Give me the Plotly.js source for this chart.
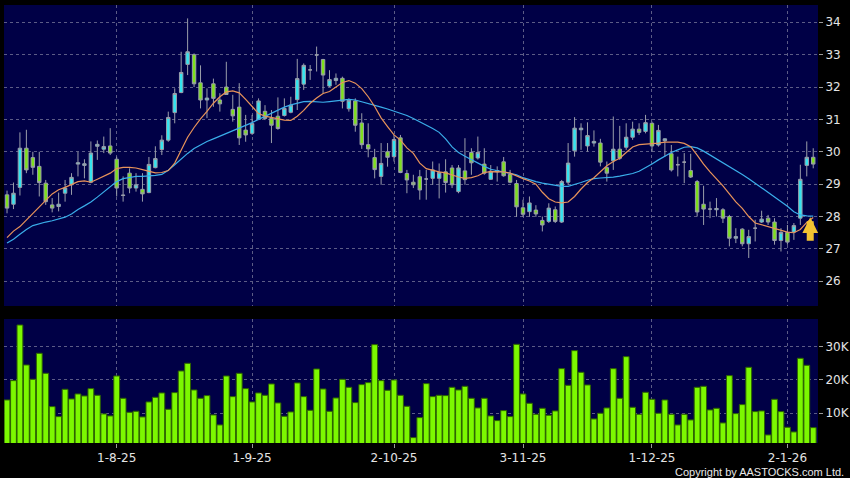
<!DOCTYPE html>
<html><head><meta charset="utf-8">
<script src="https://cdn.plot.ly/plotly-3.0.1.min.js"></script>
<style>html,body{margin:0;padding:0;background:#000;}#chart{width:850px;height:478px;}</style>
</head><body><div id="chart"></div>
<script>
const dates = [
'2025-07-09','2025-07-10','2025-07-11','2025-07-14','2025-07-15','2025-07-16','2025-07-17','2025-07-18','2025-07-21','2025-07-22',
'2025-07-23','2025-07-24','2025-07-25','2025-07-28','2025-07-29','2025-07-30','2025-07-31',
'2025-08-01','2025-08-04','2025-08-05','2025-08-06','2025-08-07','2025-08-08','2025-08-11','2025-08-12','2025-08-13','2025-08-14',
'2025-08-15','2025-08-18','2025-08-19','2025-08-20','2025-08-21','2025-08-22','2025-08-25','2025-08-26','2025-08-27','2025-08-28','2025-08-29',
'2025-09-01','2025-09-02','2025-09-03','2025-09-04','2025-09-05','2025-09-08','2025-09-09','2025-09-10','2025-09-11','2025-09-12',
'2025-09-15','2025-09-16','2025-09-17','2025-09-18','2025-09-19','2025-09-22','2025-09-23','2025-09-24','2025-09-25','2025-09-26','2025-09-29','2025-09-30',
'2025-10-02','2025-10-03','2025-10-06','2025-10-08','2025-10-09','2025-10-10','2025-10-13','2025-10-14','2025-10-15','2025-10-16',
'2025-10-17','2025-10-20','2025-10-21','2025-10-22','2025-10-23','2025-10-24','2025-10-27','2025-10-28','2025-10-30','2025-10-31',
'2025-11-03','2025-11-04','2025-11-05','2025-11-06','2025-11-07','2025-11-10','2025-11-11','2025-11-12','2025-11-13','2025-11-14',
'2025-11-17','2025-11-18','2025-11-19','2025-11-20','2025-11-21','2025-11-24','2025-11-25','2025-11-26','2025-11-27','2025-11-28',
'2025-12-01','2025-12-02','2025-12-03','2025-12-04','2025-12-05','2025-12-08','2025-12-09','2025-12-10','2025-12-11','2025-12-12',
'2025-12-15','2025-12-16','2025-12-17','2025-12-18','2025-12-19','2025-12-22','2025-12-23','2025-12-24','2025-12-29','2025-12-30','2025-12-31',
'2026-01-02','2026-01-05','2026-01-06','2026-01-07','2026-01-08'];

const openP = [28.67,28.38,28.9,30.11,29.82,29.55,29.03,28.36,28.31,28.72, 28.98,29.62,29.58,29.06,30.17,30.08,30.18,29.77,28.65,29.34,
28.88,28.84,28.74,29.51,30.07,30.36,31.21,31.83,32.7,33.0, 32.13,31.6,32.1,31.6,32.0,31.31,31.38,30.67,30.57,31.0,
31.25,31.03,31.1,31.12,31.22,31.61,32.09,32.53,32.99,32.85, 32.03,32.2,32.27,31.33,31.57,30.89,30.22,29.82,29.24,30.0,
29.85,30.43,29.33,29.06,29.23,29.16,29.18,29.18,29.38,29.5, 28.77,29.41,29.98,29.81,29.62,29.15,29.38,29.69,29.3,29.02,
28.27,28.15,28.2,27.88,27.85,28.21,27.83,29.06,30.03,30.68, 30.18,30.27,30.27,29.51,29.72,30.08,30.14,30.45,30.7,30.63,
30.88,30.21,30.34,29.94,29.6,29.68,29.42,29.08,28.38,28.23, 28.21,28.21,28.0,27.33,27.61,27.16,27.64,27.83,27.95,27.83,
27.26,27.51,27.52,27.95,29.58,29.83];
const highP = [28.8,29.05,30.6,30.68,30.0,30.0,29.13,28.57,28.74,29.13, 29.34,30.0,29.77,30.32,30.35,30.47,30.73,29.85,29.24,29.49,
29.34,29.34,29.84,30.17,30.51,31.24,31.96,33.09,34.12,33.04, 32.67,31.96,32.26,31.81,32.78,31.76,32.12,31.14,31.14,31.65,
31.44,31.29,31.68,31.65,31.7,32.87,32.73,32.68,33.25,32.87, 32.52,32.42,32.32,31.65,31.65,31.19,30.88,30.09,30.27,30.27,
30.52,30.52,29.44,29.29,29.44,29.44,29.7,29.64,29.77,29.59, 29.59,30.42,30.11,30.47,30.11,29.59,29.55,29.84,29.44,29.13,
28.52,28.62,28.35,28.0,28.41,28.31,29.13,30.27,31.07,30.88, 30.91,30.66,30.4,29.7,31.09,30.8,30.88,30.93,30.88,31.14,
30.93,30.83,30.42,30.21,29.85,29.96,29.94,29.13,28.95,28.46, 28.57,28.26,28.05,27.64,27.64,27.59,27.9,28.18,28.05,27.95,
27.64,27.74,27.8,29.6,30.32,30.11];
const lowP = [28.1,28.23,28.65,29.34,29.29,28.62,28.36,28.13,28.16,28.46, 28.67,29.24,29.18,29.03,29.75,29.96,29.9,28.62,28.46,28.72,
28.77,28.46,28.72,29.49,29.9,30.31,30.88,31.81,32.37,32.0, 31.34,31.04,31.39,31.24,31.76,30.93,30.21,30.31,30.52,30.98,
30.98,30.27,30.68,31.09,31.19,31.29,31.91,32.22,32.48,31.81, 32.0,32.07,31.34,31.24,30.62,30.09,29.83,29.18,28.98,29.54,
29.7,29.34,28.72,28.88,28.52,28.52,28.98,28.56,28.74,28.88, 28.72,28.98,29.29,29.76,29.29,29.13,29.08,29.23,29.03,27.99,
27.99,27.99,27.99,27.54,27.8,27.8,27.8,28.98,29.85,30.06, 30.01,30.16,29.55,29.08,29.44,29.75,30.06,30.37,30.52,30.57,
30.01,30.16,29.85,29.39,29.24,29.03,29.19,28.0,27.74,27.95, 28.0,27.8,27.08,27.18,27.08,26.72,27.23,27.8,27.74,27.13,
26.92,27.13,27.28,27.74,29.24,29.49];
const closeP = [28.26,28.72,30.11,29.44,29.52,29.05,28.46,28.26,28.38,28.88, 29.21,29.66,29.63,29.96,30.23,30.16,29.96,28.88,28.66,28.88,
28.98,28.7,29.61,29.79,30.36,31.06,31.8,32.45,33.09,32.1, 31.6,31.66,31.65,31.48,31.77,31.11,30.43,30.52,30.87,31.57,
31.03,30.82,30.72,31.34,31.44,32.26,32.67,32.53,32.99,32.37, 32.23,32.27,31.56,31.59,30.82,30.22,30.09,29.45,29.64,29.83,
30.38,29.36,29.13,28.98,28.82,29.16,29.44,29.36,29.05,28.98, 29.5,29.14,29.66,29.98,29.34,29.4,29.42,29.26,29.06,28.3,
28.07,28.42,28.08,27.74,28.26,27.85,29.08,29.65,30.73,30.73, 30.5,30.32,29.68,29.34,30.08,29.8,30.45,30.7,30.6,30.9,
30.18,30.66,30.4,29.44,29.6,29.68,29.22,28.14,28.23,28.23, 28.25,27.95,27.33,27.38,27.16,27.38,27.64,27.92,27.83,27.26,
27.51,27.21,27.72,29.15,29.83,29.62];

const volumeK = [14.0,19.8,36.5,24.5,20.2,28.0,22.0,12.0,9.0,17.2, 14.3,15.8,15.2,17.4,15.4,9.8,9.2,21.2,14.5,10.3,
10.6,8.9,13.4,14.8,16.1,11.2,16.2,22.7,25.0,17.0, 14.5,15.3,9.5,6.5,21.2,15.0,22.0,17.4,13.4,16.1,
15.4,18.8,13.1,9.1,10.4,19.1,15.0,10.9,23.3,17.3, 10.6,14.6,20.2,17.8,13.2,18.6,19.2,30.6,19.8,16.9,
20.0,15.4,12.1,2.7,8.7,18.9,15.0,15.4,15.3,17.8, 17.0,18.1,14.5,11.6,14.5,9.2,7.8,10.8,9.0,30.7,
15.8,13.0,9.7,11.5,9.4,10.7,23.4,18.4,28.8,22.3, 18.5,8.3,10.0,11.6,23.4,14.5,27.0,11.8,9.7,16.3,
14.2,10.0,14.0,9.7,6.5,9.7,8.0,17.8,18.1,11.0, 11.5,7.1,21.3,9.9,12.6,23.8,10.5,10.7,3.5,14.2,
10.5,5.8,4.4,26.5,24.4,5.7];

const maShort = [27.35,27.55,27.69,27.9,28.1,28.3,28.5,28.7,28.83,28.9, 29.0,29.08,29.1,29.06,29.15,29.24,29.34,29.48,29.52,29.52,
29.5,29.45,29.39,29.35,29.36,29.42,29.65,30.03,30.45,30.75, 31.02,31.25,31.5,31.7,31.85,31.88,31.82,31.62,31.4,31.18,
31.1,31.06,31.0,30.98,30.97,31.1,31.28,31.5,31.66,31.8, 31.86,32.0,32.14,32.2,32.12,31.95,31.7,31.4,31.05,30.78,
30.52,30.36,30.12,29.95,29.65,29.48,29.42,29.38,29.35,29.28, 29.22,29.18,29.2,29.26,29.36,29.39,29.39,29.38,29.34,29.25,
29.17,29.1,29.0,28.75,28.55,28.45,28.42,28.45,28.62,28.85, 29.05,29.2,29.4,29.57,29.7,29.8,29.98,30.15,30.22,30.23,
30.24,30.27,30.3,30.31,30.3,30.26,30.16,29.9,29.62,29.38, 29.18,28.95,28.7,28.45,28.25,28.0,27.8,27.74,27.69,27.62,
27.56,27.52,27.5,27.6,27.82,27.97];
const maLong = [27.18,27.3,27.45,27.6,27.72,27.78,27.83,27.87,27.92,27.98, 28.08,28.22,28.33,28.45,28.6,28.76,28.93,29.08,29.17,29.21,
29.24,29.24,29.25,29.27,29.3,29.43,29.6,29.78,29.95,30.1, 30.22,30.32,30.4,30.48,30.56,30.64,30.72,30.8,30.9,31.0,
31.1,31.19,31.3,31.38,31.45,31.5,31.55,31.56,31.55,31.53, 31.55,31.57,31.6,31.62,31.6,31.55,31.5,31.44,31.38,31.32,
31.26,31.2,31.12,31.03,30.93,30.83,30.72,30.6,30.4,30.15, 29.98,29.86,29.75,29.64,29.55,29.46,29.42,29.37,29.33,29.29,
29.2,29.13,29.08,29.03,29.0,28.96,28.93,28.93,28.98,29.05, 29.12,29.17,29.19,29.2,29.22,29.25,29.28,29.33,29.4,29.5,
29.62,29.75,29.87,29.98,30.06,30.14,30.16,30.12,30.02,29.9, 29.78,29.67,29.56,29.44,29.3,29.17,29.03,28.88,28.75,28.6,
28.47,28.32,28.15,28.05,28.02,28.01];

const tickDates = ['2025-08-01','2025-09-01','2025-10-02','2025-11-03','2025-12-01','2026-01-02'];
const tickLabels = ['1-8-25','1-9-25','2-10-25','3-11-25','1-12-25','2-1-26'];
const priceTicks = [26,27,28,29,30,31,32,33,34];
const volumeTicks = [10,20,30];
const volumeTickLabels = ['10K','20K','30K'];

const gridColor = '#5c5c86';
const lblFont = {family:'DejaVu Sans, Verdana, sans-serif', size:12, color:'#e4e4e4'};

const traces = [
  {type:'candlestick', x:dates, open:openP, high:highP, low:lowP, close:closeP,
   xaxis:'x', yaxis:'y', whiskerwidth:0, hoverinfo:'skip',
   increasing:{line:{color:'#9a9eaa', width:1}, fillcolor:'#33e4f0'},
   decreasing:{line:{color:'#9a9eaa', width:1}, fillcolor:'#7ee01c'}},
  {type:'scatter', mode:'lines', x:dates, y:maLong, xaxis:'x', yaxis:'y',
   line:{color:'#3aaeea', width:1.2}, hoverinfo:'skip'},
  {type:'scatter', mode:'lines', x:dates, y:maShort, xaxis:'x', yaxis:'y',
   line:{color:'#e8935a', width:1.2}, hoverinfo:'skip'},
  {type:'bar', x:dates, y:volumeK, xaxis:'x', yaxis:'y2',
   marker:{color:'#7cf800', line:{color:'#2e6400', width:1}}, hoverinfo:'skip'}
];

const layout = {
  width:850, height:478,
  margin:{l:4, r:32, t:5, b:35},
  paper_bgcolor:'#000000', plot_bgcolor:'#000046',
  showlegend:false, bargap:0.1, boxgap:0.24,
  xaxis:{type:'category', range:[-0.47,125.74], anchor:'y2',
    tickvals:tickDates, ticktext:tickLabels, ticks:'outside', ticklen:4, tickcolor:'#9a9a9a',
    showgrid:true, gridcolor:gridColor, griddash:'3px,3px', gridwidth:1,
    tickfont:lblFont, rangeslider:{visible:false}, zeroline:false, showline:false, fixedrange:true},
  yaxis:{domain:[0.3128,1], range:[25.237,34.534], side:'right', tickvals:priceTicks,
    ticks:'outside', ticklen:4, tickcolor:'#9a9a9a', showgrid:true, gridcolor:gridColor,
    griddash:'3px,3px', gridwidth:1, tickfont:lblFont, zeroline:false, showline:false, fixedrange:true},
  yaxis2:{domain:[0,0.2831], range:[1.08,38.3], side:'right', tickvals:volumeTicks, ticktext:volumeTickLabels,
    ticks:'outside', ticklen:4, tickcolor:'#9a9a9a', showgrid:true, gridcolor:gridColor,
    griddash:'3px,3px', gridwidth:1, tickfont:lblFont, zeroline:false, showline:false, fixedrange:true},
  annotations:[
    {x:dates[dates.length-1], y:27.98, xref:'x', yref:'y', xshift:-3, showarrow:true, text:'',
     ax:0, ay:25, arrowhead:2, arrowsize:0.45, arrowwidth:7, arrowcolor:'#f2c232'},
    {x:1.0344, y:-0.0655, xref:'paper', yref:'paper', xanchor:'right', yanchor:'middle', showarrow:false,
     text:'Copyright by AASTOCKS.com Ltd.',
     font:{family:'Liberation Sans, Arial, sans-serif', size:11, color:'#e8e8e8'}}
  ]
};

Plotly.newPlot('chart', traces, layout, {displayModeBar:false, staticPlot:true});
</script>
</body></html>
